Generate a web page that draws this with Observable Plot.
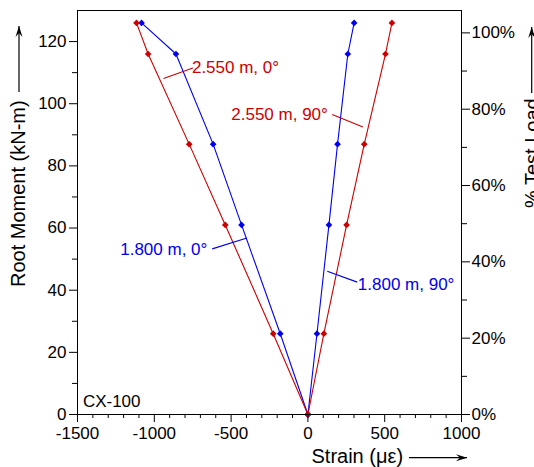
<!DOCTYPE html>
<html><head><meta charset="utf-8">
<script src="https://cdn.jsdelivr.net/npm/d3@7"></script>
<script src="https://cdn.jsdelivr.net/npm/@observablehq/plot@0.6"></script>
<style>
html,body{margin:0;padding:0;background:#fff;}
svg{display:block;}
</style>
</head><body>
<div id="chart"></div>
<script>
// ---- data ----
const moment = [0, 26, 61, 87, 116, 126];                 // kN-m load steps
const strain_1800_0  = [0, -180, -432, -617, -859, -1083];
const strain_2550_0  = [0, -226, -538, -773, -1040, -1116];
const strain_1800_90 = [0, 59, 137, 193, 260, 301];
const strain_2550_90 = [0, 104, 252, 367, 505, 547];
const seriesNames  = ["1.800 m, 0°", "1.800 m, 90°", "2.550 m, 0°", "2.550 m, 90°"];
const seriesStrain = [strain_1800_0, strain_1800_90, strain_2550_0, strain_2550_90];
const seriesColor  = ["#0000ee", "#0000ee", "#cc0000", "#cc0000"];
const fullTestLoad = 122.8;   // kN-m equal to 100 % test load
const xTicks = [-1500, -1000, -500, 0, 500, 1000];
const yTicks = [0, 20, 40, 60, 80, 100, 120];
const pctTicks = [0, 20, 40, 60, 80, 100];
// annotation anchors in data units
const labelX  = [-1222, 325, -755, -499];
const labelY  = [53.1, 41.9, 111.7, 96.6];
const leadX1  = [-623, 126, -940, 158];
const leadY1  = [53.3, 46.1, 108.1, 96.5];
const leadX2  = [-397, 321, -749, 358];
const leadY2  = [56.8, 42.6, 111.5, 92.5];
const panelText = ["CX-100"];
const panelX = [-1465];
const panelY = [4.1];

// ---- tables ----
const rows = [];
seriesNames.forEach((s, k) => seriesStrain[k].forEach((v, i) => rows.push({series: s, color: seriesColor[k], strain: v, moment: moment[i]})));
const labels = seriesNames.map((s, k) => ({text: s, color: seriesColor[k], x: labelX[k], y: labelY[k], x1: leadX1[k], y1: leadY1[k], x2: leadX2[k], y2: leadY2[k]}));
const panel = panelText.map((t, i) => ({text: t, x: panelX[i], y: panelY[i]}));

const xMinor = d3.range(-1500, 1001, 100).filter(v => v % 500 !== 0);
const yMinor = d3.range(10, 130, 20);
const pctMinor = [10, 30, 50, 70, 90];

const marks = [];
// blue first, red on top
for (const k of [0, 1, 2, 3]) {
  const d = rows.filter(r => r.series === seriesNames[k]);
  marks.push(Plot.line(d, {x: "strain", y: "moment", stroke: seriesColor[k], strokeWidth: 1.1}));
  marks.push(Plot.dot(d, {x: "strain", y: "moment", symbol: "diamond2", r: 3, fill: seriesColor[k], stroke: "none"}));
}
marks.push(
  Plot.link(labels, {x1: "x1", y1: "y1", x2: "x2", y2: "y2", stroke: "color", strokeWidth: 1.1}),
  Plot.text(labels, {x: "x", y: "y", text: "text", fill: "color", textAnchor: "start", fontSize: 17}),
  Plot.text(panel, {x: "x", y: "y", text: "text", fill: "black", textAnchor: "start", fontSize: 17}),
  Plot.axisX({ticks: xTicks, tickSize: 8, tickPadding: 4, tickFormat: d => String(d), label: null, fontSize: 17}),
  Plot.axisX({ticks: xMinor, tickSize: 4, tickFormat: () => "", label: null}),
  Plot.axisY({anchor: "left", ticks: yTicks, tickSize: 8, tickPadding: 3, tickFormat: d => String(d), label: null, fontSize: 17}),
  Plot.axisY({anchor: "left", ticks: yMinor, tickSize: 5, tickFormat: () => "", label: null}),
  Plot.axisY({anchor: "right", ticks: pctTicks.map(p => p * fullTestLoad / 100), tickSize: 8, tickPadding: 2,
              tickFormat: d => Math.round(d * 100 / fullTestLoad) + "%", label: null, fontSize: 17}),
  Plot.axisY({anchor: "right", ticks: pctMinor.map(p => p * fullTestLoad / 100), tickSize: 5, tickFormat: () => "", label: null}),
  Plot.frame({stroke: "black", strokeWidth: 1})
);

const chart = Plot.plot({
  width: 534, height: 467,
  marginLeft: 77, marginRight: 73, marginTop: 10, marginBottom: 53,
  x: {domain: [-1500, 1000]},
  y: {domain: [0, 130]},
  color: {type: "identity"},
  style: {fontFamily: "'Liberation Sans', Arial, sans-serif", fontSize: "17px", color: "black", background: "white", overflow: "hidden"},
  marks
});
document.getElementById("chart").append(chart);

// ---- axis titles with arrows ----
const svg = d3.select(chart);
const g = svg.append("g").attr("font-family", "'Liberation Sans', Arial, sans-serif").attr("font-size", 20).attr("fill", "black");
function arrow(x1, y1, x2, y2) {
  g.append("line").attr("x1", x1).attr("y1", y1).attr("x2", x2).attr("y2", y2).attr("stroke", "black").attr("stroke-width", 1.2);
  const a = Math.atan2(y2 - y1, x2 - x1), L = 11, W = 3.5;
  const bx = x2 - L * Math.cos(a), by = y2 - L * Math.sin(a);
  const px = -Math.sin(a) * W, py = Math.cos(a) * W;
  g.append("path").attr("d", `M${x2},${y2}L${bx + px},${by + py}L${x2 - 7 * Math.cos(a)},${y2 - 7 * Math.sin(a)}L${bx - px},${by - py}Z`).attr("fill", "black");
}
g.append("text").attr("transform", "translate(25,287) rotate(-90)").attr("text-anchor", "start").text("Root Moment (kN-m)");
arrow(19, 92, 19, 26);
g.append("text").attr("transform", "translate(538.5,208) rotate(-90)").attr("text-anchor", "start").text("% Test Load");
arrow(531.7, 93, 531.7, 27);
g.append("text").attr("x", 311.5).attr("y", 462.7).attr("text-anchor", "start").text("Strain (με)");
arrow(409, 457.7, 467, 457.7);
</script>
</body></html>
